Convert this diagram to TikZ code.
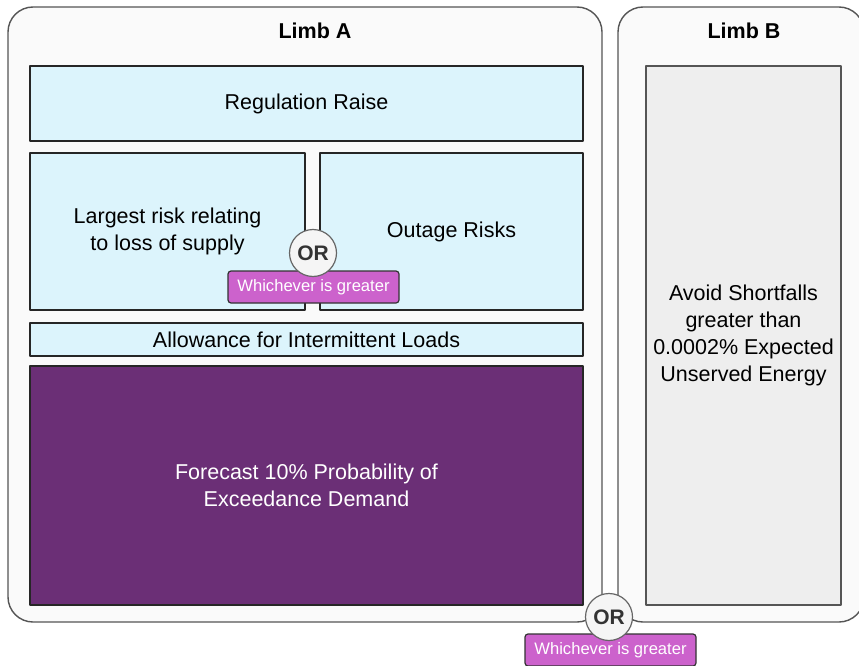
\documentclass[tikz,border=0pt]{standalone}
\usepackage{fontspec}
\setmainfont{Liberation Sans}
\usetikzlibrary{positioning}

\definecolor{limbfill}{HTML}{FAFAFA}
\definecolor{limbdraw}{HTML}{555555}
\definecolor{partfill}{HTML}{DCF4FC}
\definecolor{demandfill}{HTML}{6B2F76}
\definecolor{shortfill}{HTML}{EEEEEE}
\definecolor{orfill}{HTML}{F5F5F5}
\definecolor{ortext}{HTML}{333333}
\definecolor{tagfill}{HTML}{CC62CC}

\begin{document}
\begin{tikzpicture}[
    x=1pt, y=-1pt, line join=round,
    limb/.style   ={draw=limbdraw, fill=limbfill, line width=1.4pt, rounded corners=25pt, inner sep=0pt},
    ltitle/.style ={font=\fontsize{21.5}{24}\selectfont\bfseries, text=black},
    part/.style   ={draw=black!85, fill=partfill, line width=1.2pt, inner sep=2pt, align=center,
                    font=\fontsize{21.5}{27}\selectfont},
    demand/.style ={part, fill=demandfill, text=white},
    short/.style  ={part, draw=limbdraw, fill=shortfill},
    orcirc/.style ={circle, draw=black!60, fill=orfill, line width=1.2pt, minimum size=47pt, inner sep=0pt,
                    font=\fontsize{21}{24}\selectfont\bfseries, text=ortext},
    whtag/.style  ={draw=black!80, fill=tagfill, rounded corners=3pt, line width=1.2pt, text=white,
                    minimum width=171pt, minimum height=32pt, inner sep=0pt, font=\fontsize{16.6}{19}\selectfont}
]
\useasboundingbox (0,0) rectangle (859,666);

% the two limbs
\node[limb, minimum width=594pt, minimum height=615pt] (limbA) at (305,314.5) {};
\node[limb, minimum width=246pt, minimum height=615pt] (limbB) at (741,314.5) {};
\node[ltitle] (titleA) at (315,31) {Limb A};
\node[ltitle] (titleB) at (744,31) {Limb B};

% Limb A: stacked parts
\node[part, minimum width=553pt, minimum height=75pt] (raise) at (306.5,103.5) {Regulation Raise};
\node[part, minimum width=275pt, minimum height=157pt] (largest) at (167.5,231.5)
  {Largest risk relating\\to loss of supply};
\node[part, minimum width=263pt, minimum height=157pt] (outage) at (451.5,231.5) {Outage Risks};
\node[part, minimum width=553pt, minimum height=33pt] (allow) at (306.5,339.5) {Allowance for Intermittent Loads};
\node[demand, minimum width=553pt, minimum height=239pt] (demand) at (306.5,485.5)
  {Forecast 10\% Probability of\\Exceedance Demand};

% Limb B
\node[short, minimum width=195pt, minimum height=539pt] (shortfall) at (743.5,335.5)
  {Avoid Shortfalls\\greater than\\0.0002\% Expected\\Unserved Energy};

% OR between the two risks
\node[whtag] (tagRisk) at (313.5,287) {Whichever is greater};
\node[orcirc] (orRisk) at (313,253) {OR};

% OR between the two limbs
\node[whtag] (tagLimb) at (610.5,650) {Whichever is greater};
\node[orcirc] (orLimb) at (609,617) {OR};
\end{tikzpicture}
\end{document}
